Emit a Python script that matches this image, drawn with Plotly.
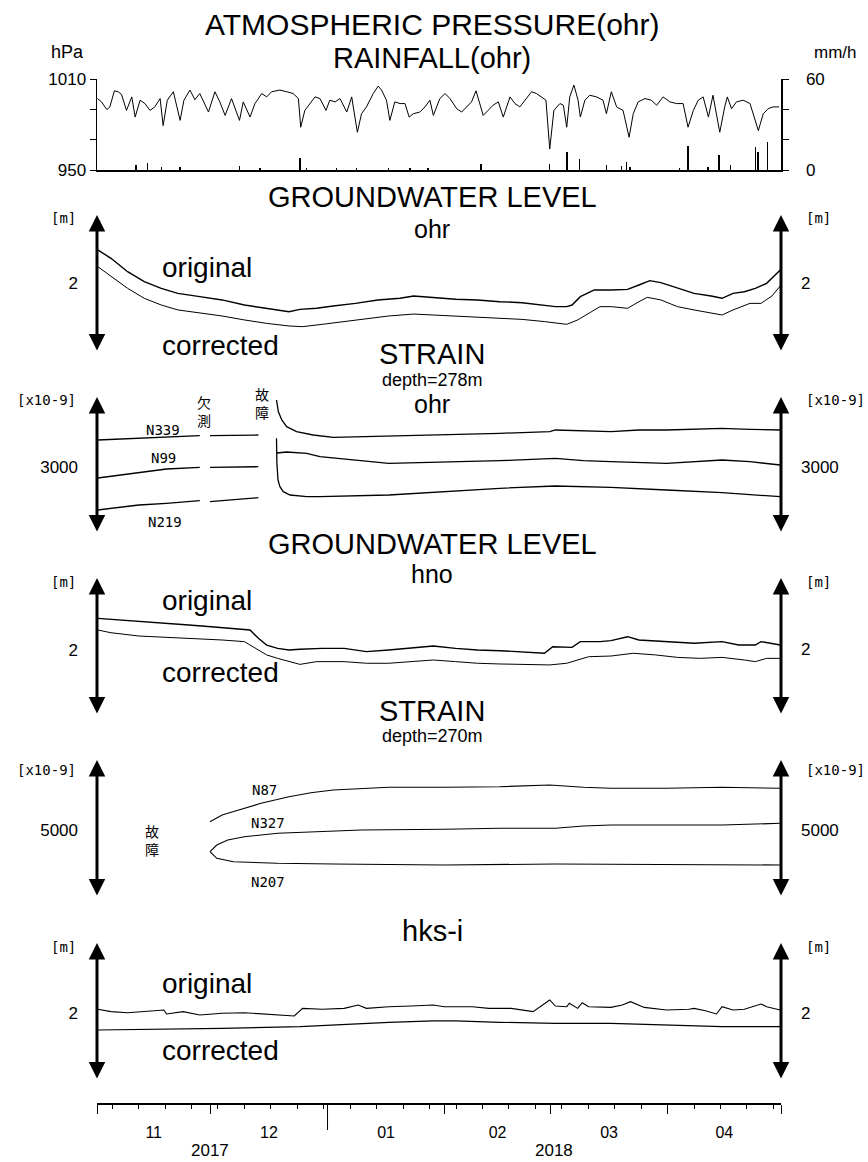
import pandas as pd
import plotly.graph_objects as go

START, END = "2017-11-01", "2018-05-01"

# ---------------- data (x = days since 2017-11-01) ----------------
pres_day = [0.1, 1.2, 2.6, 3.4, 4.6, 5.6, 6.5, 7.8, 9.2, 10.1,
            11.4, 12.7, 14.0, 15.3, 16.7, 17.5, 18.6, 20.2, 22.0, 23.0,
            24.6, 25.9, 27.2, 29.5, 31.2, 32.5, 33.9, 35.6, 37.7, 38.7,
            40.5, 41.8, 43.6, 44.9, 46.2, 48.4, 50.2, 51.9, 53.3, 53.9,
            55.0, 56.3, 57.7, 59.0, 60.6, 61.6, 63.0, 64.3, 66.1, 67.4,
            68.9, 70.0, 71.3, 73.1, 74.4, 75.3, 76.6, 77.5, 78.8, 80.2,
            81.5, 82.6, 83.7, 85.4, 86.8, 88.1, 89.0, 90.7, 92.1, 93.4,
            95.2, 96.5, 97.8, 99.1, 100.3, 101.3, 102.2, 103.5, 104.8, 106.2,
            107.5, 109.3, 110.6, 111.9, 113.2, 115.0, 116.3, 117.6, 118.8, 119.8,
            120.9, 122.5, 123.4, 124.3, 125.1, 126.2, 127.3, 127.9, 129.1, 130.4,
            132.2, 133.9, 134.8, 136.1, 137.5, 139.2, 140.8, 141.9, 143.2, 145.0,
            146.7, 148.1, 149.8, 151.6, 153.4, 155.1, 156.4, 157.8, 159.1, 160.4,
            161.8, 163.0, 164.8, 166.1, 166.8, 167.9, 169.2, 171.0, 172.8, 175.0,
            176.3, 177.6, 178.9, 180.5]
pres_hpa = [997.1, 994.9, 989.8, 991.6, 1002.2, 1001.6, 999.8, 989.3, 998.2, 984.9,
            996.0, 993.8, 989.3, 991.6, 997.1, 979.3, 996.0, 1001.6, 982.7, 996.0,
            1002.7, 996.4, 1000.4, 988.2, 1001.6, 994.9, 986.0, 997.1, 982.7, 994.9,
            984.9, 993.8, 1000.4, 998.2, 1001.6, 1002.7, 1001.6, 1000.4, 997.1, 978.2,
            989.3, 993.8, 998.2, 997.1, 989.3, 996.0, 994.9, 997.1, 988.2, 998.2,
            974.9, 987.1, 991.6, 1000.4, 1005.3, 1002.7, 996.0, 982.7, 994.9, 993.8,
            993.8, 984.9, 987.1, 988.2, 991.6, 996.0, 986.0, 997.0, 1000.4, 997.1,
            990.4, 988.2, 991.6, 994.9, 1002.2, 993.8, 986.0, 989.3, 992.7, 994.9,
            984.9, 998.2, 993.8, 991.6, 996.0, 1001.6, 1000.4, 998.2, 996.0, 963.8,
            989.3, 993.8, 992.7, 978.2, 998.2, 1006.0, 996.0, 984.9, 996.0, 999.3,
            998.2, 996.0, 987.1, 1001.6, 991.6, 989.3, 971.6, 987.1, 994.9, 997.1,
            996.0, 992.7, 998.2, 994.9, 993.8, 993.8, 978.2, 989.3, 996.0, 998.2,
            984.9, 999.3, 974.9, 991.6, 998.2, 990.4, 994.9, 996.0, 993.8, 976.0,
            987.1, 990.4, 991.6, 991.6]

rain_day = [10.3, 13.4, 17.1, 22.0, 37.7, 43.1, 53.7, 55.5, 63.4, 68.7,
            77.1, 82.8, 87.6, 101.6, 119.8, 124.4, 127.6, 134.8, 138.8, 140.1,
            141.0, 154.2, 156.4, 161.7, 164.6, 167.7, 174.3, 174.9, 177.4]
rain_mm = [3.1, 4.9, 2.0, 2.0, 2.4, 1.1, 7.6, 1.5, 1.1, 1.5,
           1.5, 1.5, 1.5, 3.8, 3.8, 12.2, 7.1, 3.1, 2.7, 5.3,
           2.0, 1.1, 16.0, 2.0, 9.8, 3.1, 14.9, 11.6, 18.7]

ohr_orig_day = [0.2, 3.7, 8.1, 12.5, 17.0, 21.4, 27.2, 33.1, 39.0, 44.9,
                50.8, 53.7, 58.1, 62.5, 68.4, 74.3, 80.2, 83.8, 89.0, 94.9,
                100.7, 106.6, 112.5, 118.4, 121.3, 124.3, 125.7, 127.9, 131.6, 136.0,
                140.4, 143.4, 146.3, 149.2, 153.6, 158.0, 162.5, 165.4, 168.3, 171.3,
                174.2, 177.2, 180.8]
ohr_orig_m = [2.245, 2.184, 2.086, 2.013, 1.965, 1.928, 1.904, 1.880, 1.843, 1.819,
              1.794, 1.811, 1.819, 1.836, 1.855, 1.880, 1.892, 1.909, 1.899, 1.885,
              1.880, 1.867, 1.860, 1.843, 1.831, 1.831, 1.843, 1.904, 1.953, 1.953,
              1.957, 1.989, 2.021, 2.006, 1.965, 1.928, 1.909, 1.892, 1.928, 1.940,
              1.965, 2.001, 2.099]
ohr_corr_day = [0.2, 3.7, 8.1, 12.5, 17.0, 21.4, 27.2, 33.1, 39.0, 44.9,
                50.8, 54.4, 59.6, 65.4, 71.3, 77.2, 83.8, 89.0, 94.9, 100.7,
                106.6, 112.5, 118.4, 124.3, 127.2, 130.1, 133.1, 136.0, 140.4, 143.4,
                145.6, 149.2, 153.6, 158.0, 162.5, 165.4, 168.3, 172.8, 175.7, 178.6,
                180.8]
ohr_corr_m = [2.123, 2.050, 1.965, 1.892, 1.843, 1.807, 1.787, 1.763, 1.734, 1.709,
              1.690, 1.685, 1.702, 1.722, 1.746, 1.763, 1.777, 1.770, 1.758, 1.753,
              1.746, 1.738, 1.722, 1.702, 1.734, 1.782, 1.831, 1.831, 1.819, 1.867,
              1.899, 1.880, 1.831, 1.807, 1.787, 1.770, 1.807, 1.855, 1.855, 1.909,
              1.982]

n339_day = [0.2, 11.1, 18.4, 27.2, 28.5, 29.9, 36.1, 42.7, 45.0, 47.5,
            48.0, 48.9, 50.2, 52.8, 57.2, 62.5, 77.2, 91.9, 106.6, 119.8,
            121.3, 136.0, 143.4, 150.7, 165.4, 172.8, 180.8]
n339_val = [3270, 3287, 3303, 3313, None, 3313, 3320, 3320, None, 3670,
            3553, 3470, 3403, 3353, 3320, 3297, 3310, 3320, 3337, 3353,
            3370, 3353, 3370, 3370, 3387, 3377, 3370]
n99_day = [0.2, 11.1, 18.4, 27.2, 28.5, 29.9, 36.1, 42.7, 45.0, 47.6,
           50.2, 55.5, 59.0, 77.2, 91.9, 106.6, 121.3, 128.7, 136.0, 143.4,
           150.7, 165.4, 172.8, 180.8]
n99_val = [2890, 2940, 2980, 2997, None, 2997, 3003, 3003, None, 3140,
           3150, 3137, 3103, 3037, 3053, 3063, 3087, 3063, 3053, 3043,
           3037, 3070, 3053, 3020]
n219_day = [0.2, 11.1, 18.4, 27.2, 28.5, 29.9, 36.1, 42.7, 45.0, 47.5,
            47.6, 47.9, 48.4, 49.3, 51.1, 55.5, 59.0, 77.2, 91.9, 106.6,
            121.3, 136.0, 150.7, 165.4, 180.8]
n219_val = [2570, 2620, 2637, 2663, None, 2653, 2670, 2693, None, 3287,
            3037, 2870, 2803, 2753, 2720, 2703, 2703, 2720, 2753, 2787,
            2810, 2797, 2770, 2743, 2703]

hno_orig_day = [0.2, 6.8, 12.5, 18.4, 24.3, 30.2, 36.1, 40.5, 42.7, 44.9,
                47.8, 50.8, 53.7, 59.6, 65.4, 71.3, 77.2, 83.1, 89.0, 94.9,
                100.7, 106.6, 112.5, 118.4, 120.6, 125.7, 127.9, 133.1, 136.0, 140.4,
                143.4, 150.7, 158.0, 165.4, 169.8, 174.2, 175.7, 180.8]
hno_orig_m = [2.231, 2.219, 2.207, 2.195, 2.182, 2.170, 2.158, 2.146, 2.085, 2.036,
              2.012, 2.000, 2.005, 2.012, 2.012, 1.988, 2.000, 2.012, 2.029, 2.012,
              2.000, 1.995, 1.988, 1.976, 2.024, 2.019, 2.061, 2.061, 2.068, 2.097,
              2.073, 2.061, 2.049, 2.061, 2.036, 2.036, 2.061, 2.036]
hno_corr_day = [0.2, 3.7, 11.1, 18.4, 25.7, 33.1, 39.0, 41.9, 44.9, 47.8,
                53.7, 58.1, 65.4, 71.3, 77.2, 83.1, 89.0, 94.9, 100.7, 106.6,
                112.5, 119.8, 124.3, 130.1, 136.0, 141.9, 147.8, 153.6, 159.5, 165.4,
                171.3, 174.2, 177.2, 180.8]
hno_corr_m = [2.146, 2.126, 2.102, 2.092, 2.085, 2.073, 2.061, 2.012, 1.964, 1.939,
              1.895, 1.915, 1.915, 1.903, 1.903, 1.915, 1.927, 1.915, 1.903, 1.898,
              1.895, 1.891, 1.903, 1.951, 1.956, 1.976, 1.964, 1.946, 1.939, 1.946,
              1.927, 1.915, 1.939, 1.939]

n87_day = [29.9, 33.1, 37.5, 43.4, 50.8, 56.6, 62.5, 69.9, 77.2, 91.9,
           106.6, 119.8, 128.7, 136.0, 150.7, 165.4, 180.8]
n87_val = [5083, 5150, 5200, 5267, 5333, 5373, 5400, 5417, 5427, 5427,
           5433, 5450, 5427, 5417, 5417, 5427, 5417]
n327_day = [29.9, 31.7, 34.6, 39.0, 47.8, 56.6, 69.9, 91.9, 106.6, 121.3,
            128.7, 136.0, 150.7, 165.4, 180.8]
n327_val = [4783, 4850, 4900, 4933, 4967, 4983, 5000, 5007, 5017, 5017,
            5040, 5050, 5050, 5050, 5067]
n207_day = [29.9, 31.7, 36.1, 47.8, 62.5, 91.9, 121.3, 136.0, 150.7, 180.8]
n207_val = [4783, 4717, 4683, 4667, 4660, 4650, 4660, 4657, 4650, 4650]

hks_orig_day = [0.2, 3.7, 8.1, 12.5, 17.7, 18.4, 22.8, 27.2, 33.1, 39.0,
                44.9, 52.2, 54.4, 59.6, 65.4, 69.1, 71.3, 77.2, 83.1, 89.0,
                91.9, 99.3, 103.7, 109.6, 115.4, 119.8, 121.3, 124.3, 125.0, 127.2,
                128.4, 130.1, 136.0, 139.0, 141.2, 144.8, 150.7, 156.6, 158.0, 161.0,
                163.9, 165.4, 168.3, 171.3, 175.7, 177.2, 180.8]
hks_orig_m = [2.027, 2.010, 2.002, 2.010, 2.022, 1.993, 2.010, 1.985, 1.998, 2.002,
              1.993, 1.978, 2.034, 2.027, 2.034, 2.058, 2.034, 2.046, 2.051, 2.058,
              2.046, 2.046, 2.034, 2.034, 2.010, 2.095, 2.051, 2.046, 2.071, 2.034,
              2.075, 2.046, 2.041, 2.058, 2.083, 2.041, 2.022, 2.027, 2.034, 2.017,
              1.993, 2.046, 2.022, 2.027, 2.066, 2.046, 2.022]
hks_corr_day = [0.2, 18.4, 33.1, 53.7, 62.5, 69.9, 77.2, 89.0, 94.9, 106.6,
                121.3, 136.0, 143.4, 150.7, 158.0, 165.4, 180.8]
hks_corr_m = [1.876, 1.881, 1.888, 1.900, 1.912, 1.925, 1.932, 1.942, 1.942, 1.932,
              1.925, 1.925, 1.920, 1.912, 1.905, 1.900, 1.900]

years = [2017, 2018]

# ---------------- layout geometry ----------------
W, H = 868, 1162
L, R = 97, 781
TOP, BOT = 79, 1103


def px_x(x):
    return (x - L) / (R - L)


def px_y(y):
    return (BOT - y) / (BOT - TOP)


def to_dates(days):
    base = pd.Timestamp(START)
    return [(base + pd.Timedelta(days=d)).strftime("%Y-%m-%d %H:%M:%S") for d in days]


FONT = "Liberation Sans, Arial, sans-serif"
MONO = "DejaVu Sans Mono, Liberation Mono, monospace"
JP = "Noto Sans CJK JP, sans-serif"

fig = go.Figure()

# top panel: pressure + rainfall
fig.add_trace(go.Scatter(x=to_dates(pres_day), y=pres_hpa, xaxis="x2", yaxis="y",
                         mode="lines", line=dict(color="black", width=1), showlegend=False))
fig.add_trace(go.Bar(x=to_dates(rain_day), y=rain_mm, xaxis="x2", yaxis="y7",
                     width=0.35 * 86400000, marker=dict(color="black", line=dict(width=0)),
                     showlegend=False))

# panels: axis, pixel top/bottom of arrow, range, tick value, unit
panels = [
    dict(ax="y2", top=215, bot=352, rng=[1.5, 2.5], tick=2, unit="[m]", uy=218,
         series=[(ohr_orig_day, ohr_orig_m, 1.4), (ohr_corr_day, ohr_corr_m, 1.0)]),
    dict(ax="y3", top=397, bot=533, rng=[2340, 3700], tick=3000, unit="[x10-9]", uy=400,
         series=[(n339_day, n339_val, 1.3), (n99_day, n99_val, 1.3), (n219_day, n219_val, 1.3)]),
    dict(ax="y4", top=578, bot=715, rng=[1.5255, 2.5255], tick=2, unit="[m]", uy=582,
         series=[(hno_orig_day, hno_orig_m, 1.4), (hno_corr_day, hno_corr_m, 1.0)]),
    dict(ax="y5", top=760, bot=897, rng=[4330, 5700], tick=5000, unit="[x10-9]", uy=770,
         series=[(n87_day, n87_val, 1.1), (n327_day, n327_val, 1.1), (n207_day, n207_val, 1.1)]),
    dict(ax="y6", top=943, bot=1080, rng=[1.511, 2.511], tick=2, unit="[m]", uy=947,
         series=[(hks_orig_day, hks_orig_m, 1.1), (hks_corr_day, hks_corr_m, 1.2)]),
]

annotations = []
layout_axes = {}

for p in panels:
    for days, vals, lw in p["series"]:
        fig.add_trace(go.Scatter(x=to_dates(days), y=vals, xaxis="x", yaxis=p["ax"],
                                 mode="lines", line=dict(color="black", width=lw),
                                 connectgaps=False, showlegend=False))
    key = "yaxis" + p["ax"][1:]
    layout_axes[key] = dict(domain=[px_y(p["bot"]), px_y(p["top"])], range=p["rng"],
                            anchor="x", showline=False, showgrid=False, zeroline=False,
                            ticks="", tickmode="array", tickvals=[p["tick"]],
                            ticktext=[str(p["tick"])], ticklabelstandoff=18,
                            tickfont=dict(family=FONT, size=17, color="black"))
    # right-hand tick label
    annotations.append(dict(xref="paper", yref=p["ax"], x=1, y=p["tick"], text=str(p["tick"]),
                            showarrow=False, xanchor="left", yanchor="middle", xshift=18,
                            font=dict(family=FONT, size=17, color="black")))
    # double-headed scale arrows at both sides
    for xx in (0, 1):
        annotations.append(dict(xref="paper", yref=p["ax"] + " domain", x=xx, y=1,
                                axref="pixel", ax=0, ayref=p["ax"] + " domain", ay=0,
                                text="", showarrow=True, arrowside="end+start",
                                arrowhead=2, startarrowhead=2, arrowsize=1.1,
                                startarrowsize=1.1, arrowwidth=3, arrowcolor="black",
                                standoff=0, startstandoff=0))
    # units
    ufont = dict(family=MONO, size=14, color="black")
    annotations.append(dict(xref="paper", yref="paper", x=0, y=px_y(p["uy"]), text=p["unit"],
                            showarrow=False, xanchor="right", yanchor="middle", xshift=-19,
                            font=ufont))
    annotations.append(dict(xref="paper", yref="paper", x=1, y=px_y(p["uy"]), text=p["unit"],
                            showarrow=False, xanchor="left", yanchor="middle", xshift=23,
                            font=ufont))

# titles
titles = [("ATMOSPHERIC PRESSURE(ohr)", 24, 30), ("RAINFALL(ohr)", 58, 29),
          ("GROUNDWATER LEVEL", 197, 29), ("ohr", 229, 25),
          ("STRAIN", 354, 29), ("depth=278m", 380, 18), ("ohr", 404, 25),
          ("GROUNDWATER LEVEL", 544, 29), ("hno", 574, 25),
          ("STRAIN", 711, 29), ("depth=270m", 736, 18),
          ("hks-i", 931, 29)]
for t, yy, sz in titles:
    annotations.append(dict(xref="paper", yref="paper", x=px_x(432), y=px_y(yy), text=t,
                            showarrow=False, xanchor="center", yanchor="middle",
                            font=dict(family=FONT, size=sz, color="black")))

# top panel units
annotations.append(dict(xref="paper", yref="paper", x=0, y=px_y(52), text="hPa", showarrow=False,
                        xanchor="right", yanchor="middle", xshift=-11,
                        font=dict(family=FONT, size=18, color="black")))
annotations.append(dict(xref="paper", yref="paper", x=1, y=px_y(52), text="mm/h", showarrow=False,
                        xanchor="left", yanchor="middle", xshift=31,
                        font=dict(family=FONT, size=17, color="black")))

# series labels
big = dict(family=FONT, size=28, color="black")
for t, yy in [("original", 267), ("corrected", 345), ("original", 600), ("corrected", 672),
              ("original", 983), ("corrected", 1050)]:
    annotations.append(dict(xref="paper", yref="paper", x=px_x(160), y=px_y(yy), text=t,
                            showarrow=False, xanchor="left", yanchor="middle", font=big))
small = dict(family=MONO, size=14, color="black")
for t, xx, yy in [("N339", 163, 430), ("N99", 163, 458), ("N219", 165, 522),
                  ("N87", 264, 790), ("N327", 268, 823), ("N207", 268, 882)]:
    annotations.append(dict(xref="paper", yref="paper", x=px_x(xx), y=px_y(yy), text=t,
                            showarrow=False, xanchor="center", yanchor="middle", font=small))
jp = dict(family=JP, size=14, color="black")
for t, xx, yy in [("欠<br>測", 204, 411), ("故<br>障", 262, 403), ("故<br>障", 152, 840)]:
    annotations.append(dict(xref="paper", yref="paper", x=px_x(xx), y=px_y(yy), text=t,
                            showarrow=False, xanchor="center", yanchor="middle", font=jp))

# year labels centred on the part of each year inside the range
t0, t1 = pd.Timestamp(START), pd.Timestamp(END)
for yr in years:
    a = max(t0, pd.Timestamp(f"{yr}-01-01"))
    b = min(t1, pd.Timestamp(f"{yr + 1}-01-01"))
    mid = a + (b - a) / 2
    annotations.append(dict(xref="x", yref="paper", x=mid.strftime("%Y-%m-%d"), y=px_y(1150),
                            text=str(yr), showarrow=False, yanchor="middle",
                            font=dict(family=FONT, size=17, color="black")))

shapes = []
for yr in years[1:]:
    shapes.append(dict(type="line", xref="x", yref="paper", x0=f"{yr}-01-01", x1=f"{yr}-01-01",
                       y0=0, y1=px_y(1130), line=dict(color="black", width=1)))

fig.update_layout(
    width=W, height=H, autosize=False,
    margin=dict(l=L, r=W - R, t=TOP, b=H - BOT, pad=0),
    paper_bgcolor="white", plot_bgcolor="white",
    showlegend=False, bargap=0,
    font=dict(family=FONT, color="black"),
    xaxis=dict(type="date", range=[START, END], anchor="free", position=0,
               showline=True, linecolor="black", linewidth=1.5, showgrid=False, zeroline=False,
               ticks="outside", ticklen=9, tickwidth=1, tickcolor="black",
               tick0=START, dtick="M1", tickformat="%m", ticklabelmode="period",
               ticklabelstandoff=5, tickfont=dict(family=FONT, size=16, color="black"),
               minor=dict(ticks="outside", ticklen=4, tickwidth=1, tickcolor="black",
                          tick0="2017-11-05", dtick=7 * 86400000, showgrid=False)),
    xaxis2=dict(type="date", matches="x", anchor="y", showline=True, linecolor="black",
                linewidth=1.5, showgrid=False, zeroline=False, ticks="", showticklabels=False),
    yaxis=dict(domain=[px_y(170), px_y(79)], range=[950, 1010], anchor="x2",
               showline=True, linecolor="black", linewidth=1.5, showgrid=False, zeroline=False,
               ticks="outside", ticklen=6, tickcolor="black", tickmode="array",
               tickvals=[950, 970, 990, 1010], ticktext=["950", "", "", "1010"],
               tickfont=dict(family=FONT, size=17, color="black")),
    yaxis7=dict(overlaying="y", side="right", range=[0, 60], anchor="x2",
                showline=True, linecolor="black", linewidth=1.5, showgrid=False, zeroline=False,
                ticks="outside", ticklen=6, tickcolor="black", tickmode="array",
                tickvals=[0, 20, 40, 60], ticktext=["0", "", "", "60"], ticklabelstandoff=14,
                tickfont=dict(family=FONT, size=17, color="black")),
    annotations=annotations,
    shapes=shapes,
)
fig.update_layout(**layout_axes)

fig.write_html("out.html", config={"displayModeBar": False, "staticPlot": True},
               post_script="document.body.style.margin='0px';document.body.style.overflow='hidden';")
